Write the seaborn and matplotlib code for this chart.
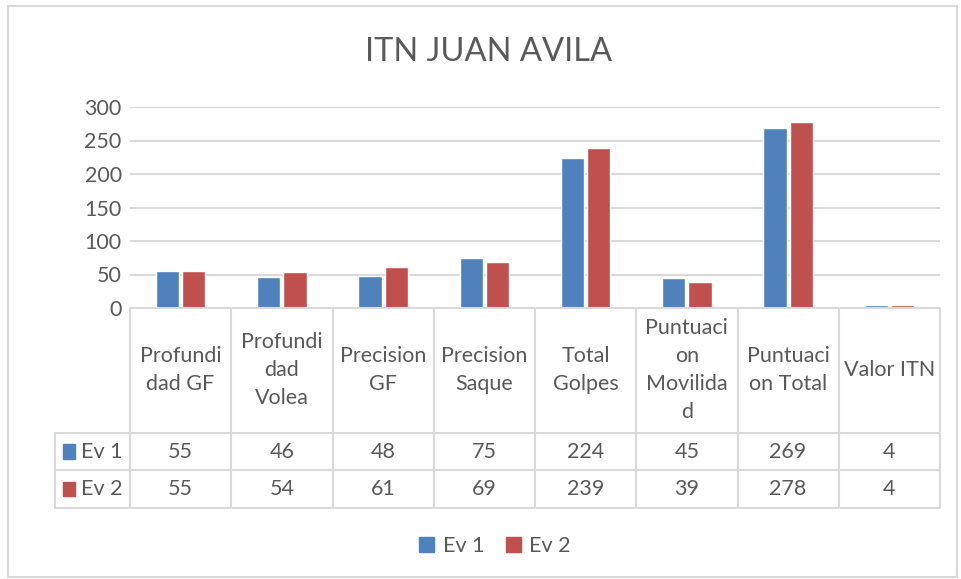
import numpy as np
import pandas as pd
import seaborn as sns
import matplotlib.pyplot as plt
from matplotlib.patches import Rectangle

# ======================
# Data
# ======================

categories = [
    "Profundi\ndad GF",
    "Profundi\ndad\nVolea",
    "Precision\nGF",
    "Precision\nSaque",
    "Total\nGolpes",
    "Puntuaci\non\nMovilida\nd",
    "Puntuaci\non Total",
    "Valor ITN",
]
series_names = ["Ev 1", "Ev 2"]
ev1 = [55, 46, 48, 75, 224, 45, 269, 4]
ev2 = [55, 54, 61, 69, 239, 39, 278, 4]
y_ticks = [0, 50, 100, 150, 200, 250, 300]

colors = ["#4F81BD", "#C0504D"]
text_color = "#595959"
line_color = "#D9D9D9"

df = pd.DataFrame({
    "cat": categories * 2,
    "serie": [series_names[0]] * len(categories) + [series_names[1]] * len(categories),
    "valor": ev1 + ev2,
})

# ======================
# Figure
# ======================

sns.set_style("white")
plt.rcParams["font.family"] = ["Lato", "DejaVu Sans"]

fig = plt.figure(figsize=(9.61, 5.79), dpi=100)
fig.patches.append(Rectangle((0.008, 0.004), 0.988, 0.985, transform=fig.transFigure,
                             fill=False, edgecolor=line_color, linewidth=1.5))

ax = fig.add_axes([130 / 961, 1 - 308 / 579, 810 / 961, 201 / 579])

sns.barplot(data=df, x="cat", y="valor", hue="serie", palette=colors,
            width=0.52, gap=0.12, ax=ax, legend=False, saturation=1)

ax.set_ylim(0, 300)
ax.set_xlim(-0.5, len(categories) - 0.5)
ax.set_yticks(y_ticks)
ax.yaxis.grid(True, color=line_color, linewidth=1.5)
ax.set_axisbelow(True)
for s in ax.spines.values():
    s.set_visible(False)
ax.tick_params(axis="y", length=0, pad=6, labelsize=15.5, labelcolor=text_color)
ax.set_xticks([])
ax.set_xlabel("")
ax.set_ylabel("")

fig.text(489 / 961, 1 - 52 / 579, "ITN JUAN AVILA", ha="center", va="center",
         fontsize=23.5, color=text_color)

# ======================
# Data table
# ======================

trans = ax.get_xaxis_transform()
h = 201.0
y_hdr = -125 / h
y_r1 = -162 / h
y_r2 = -200 / h
x_leg = -0.5 - 75 / 101.25
n = len(categories)
fs = 15.5

lkw = dict(color=line_color, linewidth=1.5, transform=trans, clip_on=False)
ax.plot([-0.5, n - 0.5], [0, 0], **lkw)
for yy in [y_hdr, y_r1, y_r2]:
    ax.plot([x_leg, n - 0.5], [yy, yy], **lkw)
for i in range(n + 1):
    ax.plot([i - 0.5, i - 0.5], [0, y_r2], **lkw)
ax.plot([x_leg, x_leg], [y_hdr, y_r2], **lkw)

for i, c in enumerate(categories):
    ax.text(i, y_hdr / 2, c, ha="center", va="center", transform=trans,
            fontsize=fs, color=text_color, linespacing=1.5)
    ax.text(i, (y_hdr + y_r1) / 2, str(ev1[i]), ha="center", va="center",
            transform=trans, fontsize=fs, color=text_color)
    ax.text(i, (y_r1 + y_r2) / 2, str(ev2[i]), ha="center", va="center",
            transform=trans, fontsize=fs, color=text_color)

for k, (yy, name) in enumerate([((y_hdr + y_r1) / 2, series_names[0]),
                                ((y_r1 + y_r2) / 2, series_names[1])]):
    ax.add_patch(Rectangle((x_leg + 0.08, yy - 0.035), 0.12, 0.07, transform=trans,
                           color=colors[k], clip_on=False))
    ax.text(x_leg + 0.26, yy, name, ha="left", va="center", transform=trans,
            fontsize=fs, color=text_color)

# ======================
# Legend
# ======================

handles = [Rectangle((0, 0), 1, 1, color=col) for col in colors]
fig.legend(handles, series_names, loc="center", bbox_to_anchor=(0.515, 1 - 546 / 579),
           ncol=2, frameon=False, fontsize=fs, labelcolor=text_color,
           handlelength=0.7, handleheight=0.7, handletextpad=0.4, columnspacing=1.0)

fig.savefig("out.png", dpi=100)
